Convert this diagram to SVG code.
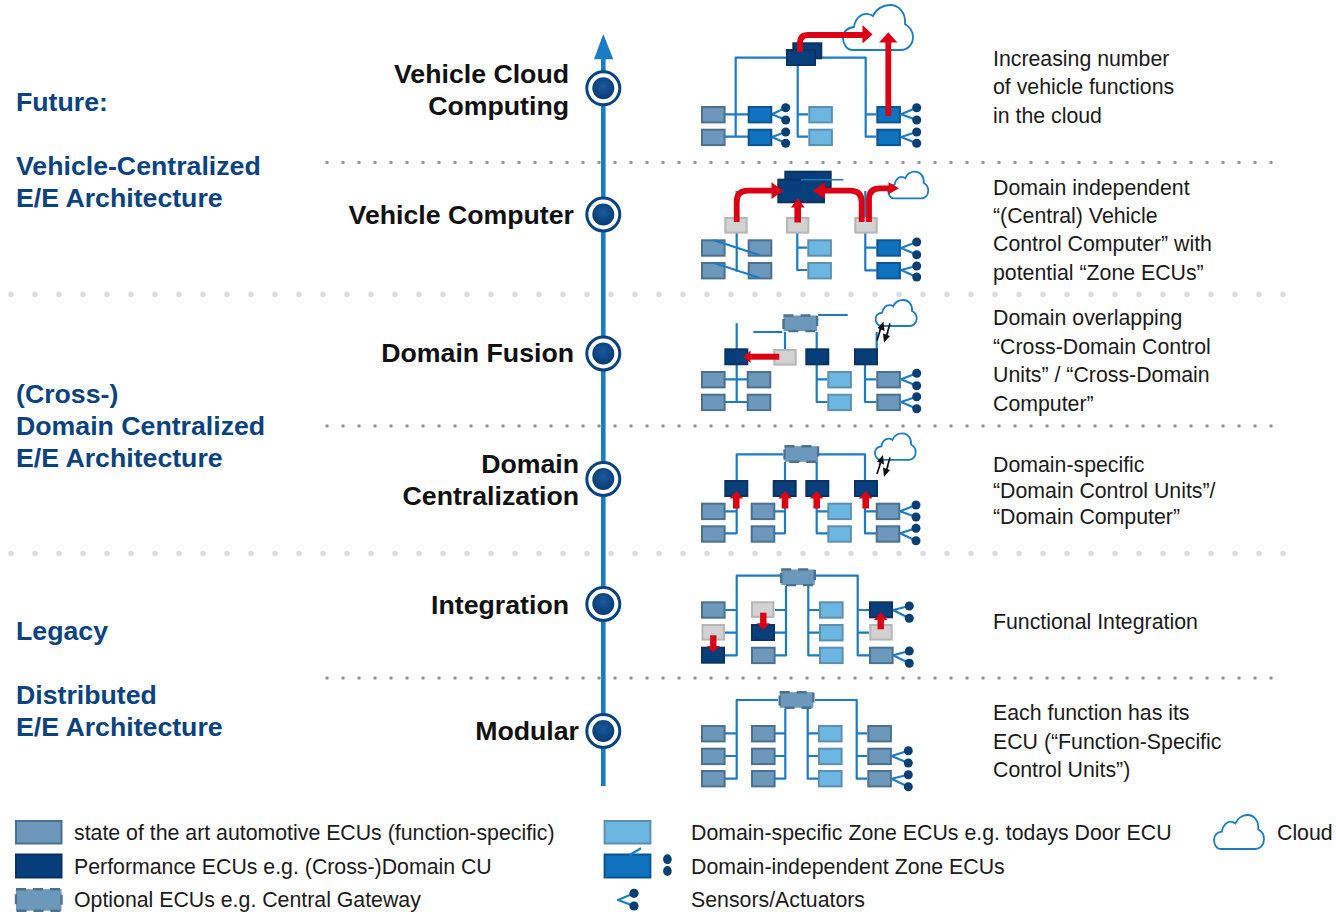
<svg xmlns="http://www.w3.org/2000/svg" xmlns:xlink="http://www.w3.org/1999/xlink" width="1336" height="912" viewBox="0 0 1336 912">
<style>
text{font-family:"Liberation Sans",Arial,sans-serif}
.t{font-size:26.7px;font-weight:700;fill:#0b437f}
.h{font-size:26.7px;font-weight:700;fill:#111;text-anchor:end}
.d{font-size:21.3px;fill:#1a1a1a}
.w{fill:none;stroke:#1a7cc4;stroke-width:2.2;stroke-linejoin:round}
.c{fill:#073f73}
.r{fill:none;stroke:#dc0014;stroke-width:5.8;stroke-linejoin:round}
.rh{fill:#dc0014}
.cl{fill:#fff;stroke:#1a7cc4;stroke-width:1.8;vector-effect:non-scaling-stroke}
.k{fill:none;stroke:#111;stroke-width:1.7}
.dk{fill:#111}
.od{fill:#6c98bc;stroke:#4e708f;stroke-width:2.4;stroke-dasharray:10 7}
.dot1{fill:none;stroke:#8d9aa5;stroke-width:3.6;stroke-linecap:round;stroke-dasharray:0 16}
.dot2{fill:none;stroke:#d9dde2;stroke-width:5.6;stroke-linecap:round;stroke-dasharray:0 24}
</style>
<defs>
<rect id="s" x="1" y="1" width="22.6" height="15.4" fill="#6c98bc" stroke="#4e708f" stroke-width="2"/>
<rect id="l" x="1" y="1" width="22.6" height="15.4" fill="#6cb7e2" stroke="#5e8fb0" stroke-width="2"/>
<rect id="z" x="1" y="1" width="22.6" height="15.4" fill="#0f72be" stroke="#0d5591" stroke-width="2"/>
<rect id="p" x="1" y="1" width="22" height="15" fill="#073f7d" stroke="#0b335f" stroke-width="2"/>
<rect id="g" x="1" y="1" width="21.4" height="14.6" fill="#d2d2d2" stroke="#b6b6b6" stroke-width="2"/>
<rect id="o" x="1.2" y="1.2" width="33.6" height="15.6" class="od"/>
<path id="cloud" class="cl" d="M10,45C3,45 0,38 0,33C0,27 4,23 11,22C12,14 18,8 25,9C27,9.5 29,10 30,11C33,4 40,0 47,0C56,0 63,8 62,19C66,21 70,26 70,32C70,40 64,45 58,45Z"/>
<radialGradient id="nd" cx="50%" cy="40%" r="60%"><stop offset="0" stop-color="#1b5a9e"/><stop offset="1" stop-color="#063a72"/></radialGradient>
</defs>

<g id="separators">
<line class="dot1" x1="327" y1="162.5" x2="1275" y2="162.5"/>
<line class="dot2" x1="11" y1="294.5" x2="1287" y2="294.5"/>
<line class="dot1" x1="327" y1="426" x2="1275" y2="426"/>
<line class="dot2" x1="11" y1="553.5" x2="1287" y2="553.5"/>
<line class="dot1" x1="327" y1="678" x2="1275" y2="678"/>
</g>

<g id="timeline">
<line x1="603.3" y1="786" x2="603.3" y2="56" stroke="#1a7cc4" stroke-width="4.6"/>
<polygon points="603.3,34 613.3,59.3 594,59.3" fill="#1a7cc4"/>
</g>
<g id="milestones" fill="#fff" stroke="#0b437f" stroke-width="3">
<g id="m1"><circle cx="603.3" cy="88.3" r="16.5"/><circle cx="603.3" cy="88.3" r="11" fill="url(#nd)" stroke="none"/></g>
<g id="m2"><circle cx="603.3" cy="214.5" r="16.5"/><circle cx="603.3" cy="214.5" r="11" fill="url(#nd)" stroke="none"/></g>
<g id="m3"><circle cx="603.3" cy="353.5" r="16.5"/><circle cx="603.3" cy="353.5" r="11" fill="url(#nd)" stroke="none"/></g>
<g id="m4"><circle cx="603.3" cy="479" r="16.5"/><circle cx="603.3" cy="479" r="11" fill="url(#nd)" stroke="none"/></g>
<g id="m5"><circle cx="603.3" cy="604" r="16.5"/><circle cx="603.3" cy="604" r="11" fill="url(#nd)" stroke="none"/></g>
<g id="m6"><circle cx="603.3" cy="731" r="16.5"/><circle cx="603.3" cy="731" r="11" fill="url(#nd)" stroke="none"/></g>
</g>

<g id="headings">
<text class="t" x="16" y="111">Future:</text>
<text class="t" x="16" y="175">Vehicle-Centralized</text>
<text class="t" x="16" y="207">E/E Architecture</text>
<text class="t" x="16" y="403">(Cross-)</text>
<text class="t" x="16" y="435">Domain Centralized</text>
<text class="t" x="16" y="467">E/E Architecture</text>
<text class="t" x="16" y="640">Legacy</text>
<text class="t" x="16" y="704">Distributed</text>
<text class="t" x="16" y="736">E/E Architecture</text>
</g>
<g id="stage-labels">
<text class="h" x="569" y="83">Vehicle Cloud</text>
<text class="h" x="569" y="115">Computing</text>
<text class="h" x="574" y="224">Vehicle Computer</text>
<text class="h" x="574" y="362">Domain Fusion</text>
<text class="h" x="579" y="473">Domain</text>
<text class="h" x="579" y="505">Centralization</text>
<text class="h" x="569" y="614">Integration</text>
<text class="h" x="579" y="740">Modular</text>
</g>
<g id="descriptions">
<text class="d" x="993" y="66">Increasing number</text>
<text class="d" x="993" y="94">of vehicle functions</text>
<text class="d" x="993" y="123">in the cloud</text>
<text class="d" x="993" y="195">Domain independent</text>
<text class="d" x="993" y="223">“(Central) Vehicle</text>
<text class="d" x="993" y="251">Control Computer” with</text>
<text class="d" x="993" y="280">potential “Zone ECUs”</text>
<text class="d" x="993" y="325">Domain overlapping</text>
<text class="d" x="993" y="354">“Cross-Domain Control</text>
<text class="d" x="993" y="382">Units” / “Cross-Domain</text>
<text class="d" x="993" y="411">Computer”</text>
<text class="d" x="993" y="472">Domain-specific</text>
<text class="d" x="993" y="498">“Domain Control Units”/</text>
<text class="d" x="993" y="524">“Domain Computer”</text>
<text class="d" x="993" y="629">Functional Integration</text>
<text class="d" x="993" y="720">Each function has its</text>
<text class="d" x="993" y="749">ECU (“Function-Specific</text>
<text class="d" x="993" y="777">Control Units”)</text>
</g>

<g id="connectors">
<path class="w" d="M786,57.7H735.7V136.7M725,114.3H748M725,136.7H748M797.7,66V136.7H808M797.7,114.3H808M816,57.7H865.7V136.7H876M865.7,114.3H876"/>
<path class="w" d="M772,114.3L785.7,107.7M772,114.3L785.7,120M772,137L785.7,132M772,137L785.7,143.3M901,114.3L916.7,107.7M901,114.3L916.7,120M901,137L916.7,132M901,137L916.7,143.3"/>
<path class="w" d="M736.7,191V271.7M797.3,233V270H807.3M797.3,247.7H807.3M865.3,191V270.3H876.3M865.3,247.7H876.3"/>
<path class="w" d="M901,248L916.7,242M901,248L916.7,254.7M901,270L916.7,266M901,270L916.7,277"/>
<path class="w" d="M818,315H847.7M753.3,332H782.3M736.7,323.3V402M725,379.3H747M725,402H747M785,332V349M816.7,332V402H827.3M816.7,379.3H827.3M865,365V402H876.3M865,379.3H876.3M876.7,332V349"/>
<path class="w" d="M901,379.3L916.7,373.3M901,379.3L916.7,385.7M901,402L916.7,396.7M901,402L916.7,408.7"/>
<path class="w" d="M783,454.3H736.7V533.3H725M736.7,511.3H725M819,454.3H865V533.3H876M865,511.3H876M785,462V533.3H775M785,511.3H775M816.7,462V533.3H828M816.7,511.3H828"/>
<path class="w" d="M900,511.3L916,505M900,511.3L916,517M900,533.3L916,528.3M900,533.3L916,540.7"/>
<path class="w" d="M780,575.7H736.7V655.3H725M736.7,610H725M736.7,632.7H725M786,586V655.3H775M786,610H775M786,632.7H775M808.3,586V655.3H819M808.3,610H819M808.3,632.7H819M816,575.7H857.7V655.3H869M857.7,610H869M857.7,632.7H869"/>
<path class="w" d="M893,610L909.3,606M893,610L909.3,618.3M893,655.3L909.3,651M893,655.3L909.3,663.3"/>
<path class="w" d="M778,700H736.7V778.7H725M736.7,733.3H725M736.7,756H725M785.3,709V778.7H775M785.3,733.3H775M785.3,756H775M807.7,709V778.7H818M807.7,733.3H818M807.7,756H818M815,700H856.7V778.7H867M856.7,733.3H867M856.7,756H867"/>
<path class="w" d="M891.5,756L908.3,750.7M891.5,756L908.3,763M891.5,778.7L908.3,774.7M891.5,778.7L908.3,786.7"/>
<path class="w" d="M634,893.3L618,900L634,906"/>
</g>

<g id="diagram-1">
<use href="#cloud" transform="translate(843 5)"/>
<g id="d1-ecus">
<use href="#s" x="701" y="106"/><use href="#s" x="701" y="128.7"/>
<use href="#z" x="747.7" y="106"/><use href="#z" x="747.7" y="128.7"/>
<use href="#l" x="808.3" y="106"/><use href="#l" x="808.3" y="128.7"/>
<use href="#z" x="876.3" y="106"/><use href="#z" x="876.3" y="128.7"/>
<rect x="793.3" y="43.3" width="28" height="15" fill="#073f7d" stroke="#0b335f" stroke-width="2"/>
<rect x="787" y="50" width="28" height="15" fill="#073f7d" stroke="#0b335f" stroke-width="2"/>
</g>
<g class="c"><circle cx="785.7" cy="107.7" r="4.5"/><circle cx="785.7" cy="120" r="4.5"/><circle cx="785.7" cy="132" r="4.5"/><circle cx="785.7" cy="143.3" r="4.5"/><circle cx="916.7" cy="107.7" r="4.5"/><circle cx="916.7" cy="120" r="4.5"/><circle cx="916.7" cy="132" r="4.5"/><circle cx="916.7" cy="143.3" r="4.5"/></g>
</g>

<g id="diagram-2">
<use href="#cloud" transform="translate(888.3 171.7) scale(.571 .592)"/>
<g id="d2-ecus">
<rect x="785.3" y="171.7" width="45.4" height="15.3" fill="#073f7d" stroke="#0b335f" stroke-width="2"/>
<rect x="778.3" y="179.7" width="45.7" height="22.6" fill="#073f7d" stroke="#0b335f" stroke-width="2"/>
<line x1="801" y1="179.7" x2="843.3" y2="179.7" class="w" style="stroke-width:1.6"/>
<use href="#g" x="724.3" y="217"/><use href="#g" x="786" y="217"/><use href="#g" x="854.3" y="217"/>
<use href="#s" x="701" y="239.3"/><use href="#s" x="701" y="262"/>
<use href="#s" x="747.7" y="239.3"/><use href="#s" x="747.7" y="262"/>
<use href="#l" x="807.3" y="239.3"/><use href="#l" x="807.3" y="262"/>
<use href="#z" x="876.3" y="239.3"/><use href="#z" x="876.3" y="262"/>
</g>
<path class="w" d="M713.3,240L760,255.3M713.3,262.7L760,278"/>
<g class="c"><circle cx="916.7" cy="242" r="4.5"/><circle cx="916.7" cy="254.7" r="4.5"/><circle cx="916.7" cy="266" r="4.5"/><circle cx="916.7" cy="277" r="4.5"/></g>
</g>

<g id="diagram-3">
<use href="#cloud" transform="translate(875.7 300) scale(.586 .578)"/>
<g id="d3-ecus">
<use href="#o" x="782.3" y="314.3"/>
<use href="#p" x="724.3" y="348.3"/><use href="#p" x="805.3" y="348.3"/><use href="#p" x="854" y="348.3"/>
<use href="#g" x="773.3" y="349"/>
<use href="#s" x="701" y="371"/><use href="#s" x="701" y="393.7"/>
<use href="#s" x="746.7" y="371"/><use href="#s" x="746.7" y="393.7"/>
<use href="#l" x="827.3" y="371"/><use href="#l" x="827.3" y="393.7"/>
<use href="#s" x="876.3" y="371"/><use href="#s" x="876.3" y="393.7"/>
</g>
<g class="c"><circle cx="916.7" cy="373.3" r="4.5"/><circle cx="916.7" cy="385.7" r="4.5"/><circle cx="916.7" cy="396.7" r="4.5"/><circle cx="916.7" cy="408.7" r="4.5"/></g>
<path class="k" d="M877,340.5L880.5,329L879.5,331L882,326"/>
<polygon class="dk" points="883.5,321.5 884.5,331 877.5,328"/>
<path class="k" d="M890,323.5L887,334L888,332L885.5,338"/>
<polygon class="dk" points="884,342.8 883,333.5 890,336"/>
</g>

<g id="diagram-4">
<use href="#cloud" transform="translate(875 433.3) scale(.581 .592)"/>
<g id="d4-ecus">
<use href="#o" x="783.3" y="445"/>
<use href="#p" x="724.3" y="480"/><use href="#p" x="772.7" y="480"/><use href="#p" x="805.3" y="480"/><use href="#p" x="854" y="480"/>
<use href="#s" x="701" y="502.7"/><use href="#s" x="701" y="525.3"/>
<use href="#s" x="750.7" y="502.7"/><use href="#s" x="750.7" y="525.3"/>
<use href="#l" x="827.3" y="502.7"/><use href="#l" x="827.3" y="525.3"/>
<use href="#s" x="875.7" y="502.7"/><use href="#s" x="875.7" y="525.3"/>
</g>
<g class="c"><circle cx="916" cy="505" r="4.5"/><circle cx="916" cy="517" r="4.5"/><circle cx="916" cy="528.3" r="4.5"/><circle cx="916" cy="540.7" r="4.5"/></g>
<path class="k" d="M877,474L880.5,463L879.5,465L881.5,460"/>
<polygon class="dk" points="883,455 884,464.5 877,461.5"/>
<path class="k" d="M890,457.5L887,468L888,466L885.5,472"/>
<polygon class="dk" points="884,477 883,467.5 890,470"/>
</g>

<g id="diagram-5">
<g id="d5-ecus">
<use href="#o" x="780" y="568.3"/>
<use href="#s" x="701" y="601.3"/><use href="#g" x="701.5" y="624"/><use href="#p" x="701" y="646.7"/>
<use href="#g" x="751" y="601.3"/><use href="#p" x="751" y="624"/><use href="#s" x="751" y="646.7"/>
<use href="#l" x="819" y="601.3"/><use href="#l" x="819" y="624"/><use href="#l" x="819" y="646.7"/>
<use href="#p" x="869" y="601.3"/><use href="#g" x="869.3" y="624"/><use href="#s" x="869" y="646.7"/>
</g>
<g class="c"><circle cx="909.3" cy="606" r="4.5"/><circle cx="909.3" cy="618.3" r="4.5"/><circle cx="909.3" cy="651" r="4.5"/><circle cx="909.3" cy="663.3" r="4.5"/></g>
</g>

<g id="diagram-6">
<g id="d6-ecus">
<use href="#o" x="778.5" y="691"/>
<use href="#s" x="701" y="725"/><use href="#s" x="701" y="747.7"/><use href="#s" x="701" y="770"/>
<use href="#s" x="751" y="725"/><use href="#s" x="751" y="747.7"/><use href="#s" x="751" y="770"/>
<use href="#l" x="818" y="725"/><use href="#l" x="818" y="747.7"/><use href="#l" x="818" y="770"/>
<use href="#s" x="867.3" y="725"/><use href="#s" x="867.3" y="747.7"/><use href="#s" x="867.3" y="770"/>
</g>
<g class="c"><circle cx="908.3" cy="750.7" r="4.5"/><circle cx="908.3" cy="763" r="4.5"/><circle cx="908.3" cy="774.7" r="4.5"/><circle cx="908.3" cy="786.7" r="4.5"/></g>
</g>

<g id="red-arrows">
<path class="r" d="M800,52V43Q800,35 808,35H863"/><polygon class="rh" points="872.5,34.5 862.5,25 862.5,43.5"/>
<path class="r" d="M888.3,116V42"/><polygon class="rh" points="888.3,32.3 897.3,42.5 879,42.5"/>
<path class="r" d="M736.7,222V202Q736.7,190.7 748,190.7H772"/><polygon class="rh" points="783.3,190.7 771.5,182.3 771.5,199"/>
<path class="r" d="M797.7,222.5V206" style="stroke-width:6.6"/><polygon class="rh" points="797.7,198.3 804.7,207.5 790.8,207.5"/>
<path class="r" d="M861.7,222V202Q861.7,190.7 850,190.7H824"/><polygon class="rh" points="812.7,190.7 825,182.3 825,199"/>
<path class="r" d="M869,222V199Q869,188.3 880,188.3H890"/><polygon class="rh" points="899,188.3 888.5,182.3 888.5,194.3"/>
<path class="r" d="M779.3,356.7H750" style="stroke-width:6"/><polygon class="rh" points="743.3,356.7 750.5,350.5 750.5,363"/>
<g id="r4">
<path class="r" d="M736.3,508.5V497" style="stroke-width:6.6"/><polygon class="rh" points="736.3,491 743.2,498.5 729.5,498.5"/>
<path class="r" d="M785,508.5V497" style="stroke-width:6.6"/><polygon class="rh" points="785,491 791.9,498.5 778.1,498.5"/>
<path class="r" d="M816.7,508.5V497" style="stroke-width:6.6"/><polygon class="rh" points="816.7,491 823.6,498.5 809.8,498.5"/>
<path class="r" d="M865.7,508.5V497" style="stroke-width:6.6"/><polygon class="rh" points="865.7,491 872.6,498.5 858.8,498.5"/>
</g>
<path class="r" d="M713.3,635.3V647" style="stroke-width:6.4"/><polygon class="rh" points="713.3,652.3 720,646 706.6,646"/>
<path class="r" d="M763.3,612.7V624" style="stroke-width:6.4"/><polygon class="rh" points="763.3,629.7 770,623.3 756.6,623.3"/>
<path class="r" d="M880.7,629.3V619" style="stroke-width:6.4"/><polygon class="rh" points="880.7,612.3 887.5,620 873.9,620"/>
</g>

<g id="legend">
<g id="lg-state"><rect x="16" y="821" width="45.5" height="22.5" fill="#6c98bc" stroke="#4e708f" stroke-width="2"/><text class="d" x="74" y="840">state of the art automotive ECUs (function-specific)</text></g>
<g id="lg-perf"><rect x="16" y="854.5" width="45.5" height="23" fill="#073f7d" stroke="#0b335f" stroke-width="2"/><text class="d" x="74" y="874">Performance ECUs e.g. (Cross-)Domain CU</text></g>
<g id="lg-opt"><rect x="16" y="889.2" width="45.5" height="21.5" class="od"/><text class="d" x="74" y="907">Optional ECUs e.g. Central Gateway</text></g>
<g id="lg-light"><rect x="604.6" y="821" width="45.8" height="22.5" fill="#6cb7e2" stroke="#5e8fb0" stroke-width="2"/><text class="d" x="691" y="840">Domain-specific Zone ECUs e.g. todays Door ECU</text></g>
<g id="lg-zone"><rect x="604.6" y="854.5" width="45.8" height="23" fill="#0f72be" stroke="#0d5591" stroke-width="2"/><path class="w" d="M629.5,855L641,848.3"/><ellipse class="c" cx="667.4" cy="859.3" rx="4.3" ry="5"/><ellipse class="c" cx="667.4" cy="871" rx="4.3" ry="5"/><text class="d" x="691" y="874">Domain-independent Zone ECUs</text></g>
<g id="lg-sensor"><circle class="c" cx="634" cy="893.3" r="4.6"/><circle class="c" cx="634" cy="906" r="4.6"/><text class="d" x="691" y="907">Sensors/Actuators</text></g>
<g id="lg-cloud"><use href="#cloud" transform="translate(1214 815) scale(.714 .756)"/><text class="d" x="1277" y="840">Cloud</text></g>
</g>
</svg>
